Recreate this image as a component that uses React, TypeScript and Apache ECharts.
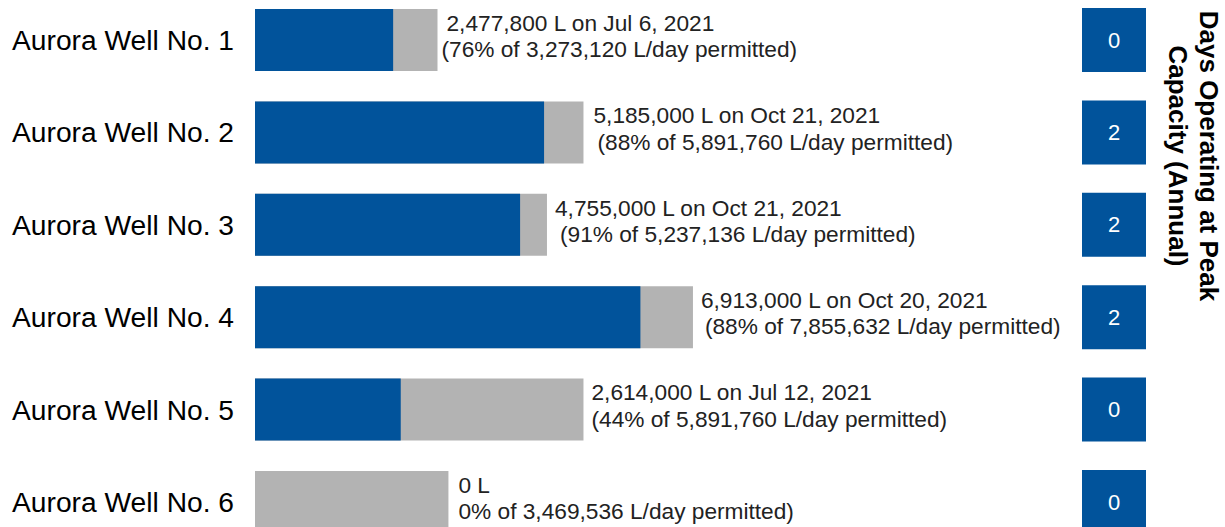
import React, { useEffect, useRef } from "react";
import * as echarts from "echarts";

const wells = [
  "Aurora Well No. 1",
  "Aurora Well No. 2",
  "Aurora Well No. 3",
  "Aurora Well No. 4",
  "Aurora Well No. 5",
  "Aurora Well No. 6",
];
const peakUse = [2477800, 5185000, 4755000, 6913000, 2614000, 0];
const peakDate = ["Jul 6, 2021", "Oct 21, 2021", "Oct 21, 2021", "Oct 20, 2021", "Jul 12, 2021", ""];
const permitted = [3273120, 5891760, 5237136, 7855632, 5891760, 3469536];
const pctPermitted = [76, 88, 91, 88, 44, 0];
const daysAtPeak = [0, 2, 2, 2, 0, 0];
const daysTitle = "Days Operating at Peak\nCapacity (Annual)";

const BLUE = "#01539b";
const GRAY = "#b3b3b3";
const FONT = "'Liberation Sans', Arial, sans-serif";

// label layout tweaks per row: [distance, line1 pad, line2 pad]
const labelLayout = [
  [4, 5, 0],
  [10, 0, 4],
  [8, 0, 5],
  [8, 0, 4],
  [8, 0, 0],
  [10, 0, 0],
];

const fmt = (n: number) => n.toLocaleString("en-US");

function lineOne(i: number) {
  return peakDate[i] ? `${fmt(peakUse[i])} L on ${peakDate[i]}` : `${fmt(peakUse[i])} L`;
}
function lineTwo(i: number) {
  return peakDate[i]
    ? `(${pctPermitted[i]}% of ${fmt(permitted[i])} L/day permitted)`
    : `${pctPermitted[i]}% of ${fmt(permitted[i])} L/day permitted)`;
}

const SHIFT = 40; // chart canvas extends above/below the visible window

export default function App() {
  const ref = useRef<HTMLDivElement>(null);
  useEffect(() => {
    if (!ref.current) return;
    const chart = echarts.init(ref.current, undefined, { renderer: "svg" });
    const gridTop = SHIFT - 6.2;
    const gridHeight = 554.4;
    const option: any = {
      animation: false,
      textStyle: { fontFamily: FONT },
      grid: [
        { left: 255, top: gridTop, width: 446, height: gridHeight, containLabel: false },
        { left: 1082, top: gridTop, width: 64, height: gridHeight, containLabel: false },
      ],
      xAxis: [
        { type: "value", gridIndex: 0, min: 0, max: 8000000, show: false },
        { type: "category", gridIndex: 1, data: ["Days"], show: false },
      ],
      yAxis: [
        {
          type: "category",
          gridIndex: 0,
          data: wells,
          inverse: true,
          axisLine: { show: false },
          axisTick: { show: false },
          splitLine: { show: false },
          axisLabel: { fontSize: 28.2, color: "#000", margin: 21, fontFamily: FONT, padding: [4, 0, 0, 0] },
        },
        {
          type: "category",
          gridIndex: 1,
          data: wells,
          inverse: true,
          show: false,
        },
      ],
      series: [
        {
          type: "bar",
          name: "Permitted",
          xAxisIndex: 0,
          yAxisIndex: 0,
          barWidth: 62,
          itemStyle: { color: GRAY },
          data: permitted.map((v, i) => ({
            value: v,
            label: {
              show: true,
              position: "right",
              distance: labelLayout[i][0],
              offset: [0, -4],
              formatter: `{a|${lineOne(i)}}\n{b|${lineTwo(i)}}`,
              rich: {
                a: { fontSize: 22.7, lineHeight: 26.5, color: "#222", fontFamily: FONT, padding: [0, 0, 0, labelLayout[i][1]] },
                b: { fontSize: 22.7, lineHeight: 26.5, color: "#222", fontFamily: FONT, padding: [0, 0, 0, labelLayout[i][2]] },
              },
            },
          })),
        },
        {
          type: "bar",
          name: "Peak use",
          xAxisIndex: 0,
          yAxisIndex: 0,
          barWidth: 62,
          barGap: "-100%",
          itemStyle: { color: BLUE },
          data: peakUse,
        },
        {
          type: "scatter",
          name: "Days at peak",
          xAxisIndex: 1,
          yAxisIndex: 1,
          symbol: "rect",
          symbolSize: 64,
          itemStyle: { color: BLUE, opacity: 1 },
          label: {
            show: true,
            position: "inside",
            color: "#fff",
            fontSize: 22,
            fontFamily: FONT,
            formatter: (p: any) => String(p.value[2]),
          },
          data: daysAtPeak.map((d, i) => [0, i, d]),
        },
      ],
      graphic: [
        {
          type: "text",
          x: 1193,
          y: SHIFT + 156,
          rotation: -Math.PI / 2,
          style: {
            text: daysTitle,
            font: `bold 26px ${FONT}`,
            fill: "#000",
            align: "center",
            verticalAlign: "middle",
            lineHeight: 31,
          },
        },
      ],
    };
    chart.setOption(option);
    return () => chart.dispose();
  }, []);
  return (
    <div style={{ position: "absolute", left: 0, top: 0, width: 1225, height: 527, overflow: "hidden" }}>
      <div
        ref={ref}
        style={{ position: "absolute", left: 0, top: -SHIFT, width: 1225, height: 527 + 2 * SHIFT }}
      />
    </div>
  );
}
